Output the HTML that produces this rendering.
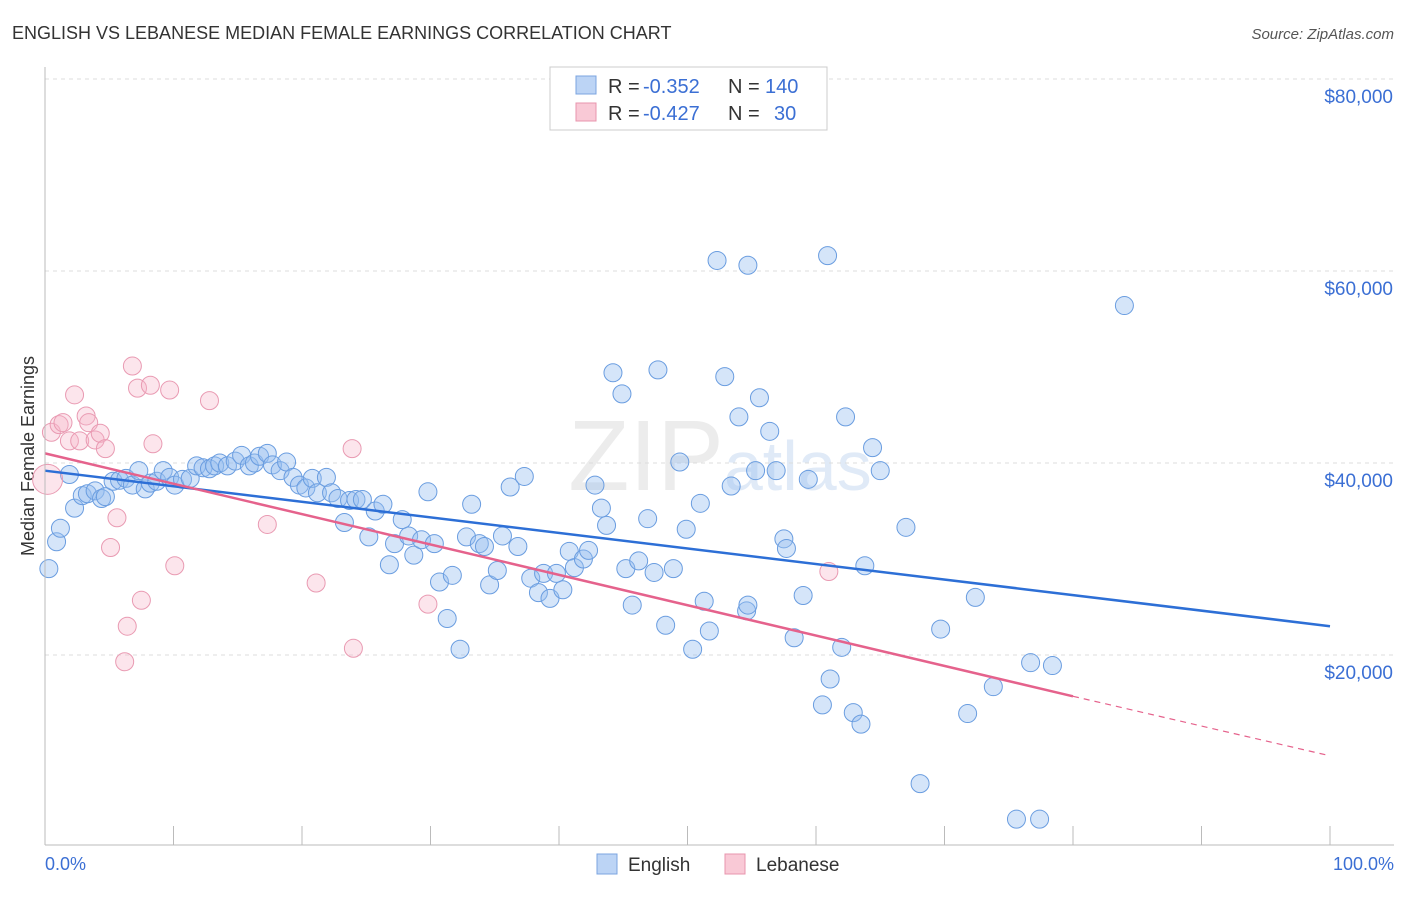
<!DOCTYPE html>
<html><head><meta charset="utf-8"><style>
body{margin:0;background:#fff;font-family:"Liberation Sans",sans-serif;}
svg text{font-family:"Liberation Sans",sans-serif;}
</style></head><body>
<svg id="c" width="1406" height="892" xmlns="http://www.w3.org/2000/svg">
<text x="12" y="39" font-size="18" fill="#333">ENGLISH VS LEBANESE MEDIAN FEMALE EARNINGS CORRELATION CHART</text>
<text x="1394" y="39" font-size="15" fill="#555" text-anchor="end" font-style="italic">Source: ZipAtlas.com</text>
<text x="34" y="456" font-size="18" fill="#333" text-anchor="middle" transform="rotate(-90 34 456)">Median Female Earnings</text>
<text x="720" y="490" font-size="100" fill="#ececec" text-anchor="middle" font-family="Liberation Serif">ZIP<tspan font-size="70" fill="#e0eaf7" font-family="Liberation Sans">atlas</tspan></text>
<g id="grid"></g><g id="marks"></g>
<line x1="45" y1="67" x2="45" y2="845" stroke="#bbb"/>
<line x1="45" y1="845" x2="1394" y2="845" stroke="#bbb"/>
<text x="45" y="870" font-size="18" fill="#3b6fd4">0.0%</text>
<text x="1394" y="870" font-size="18" fill="#3b6fd4" text-anchor="end">100.0%</text>
<g>
<rect x="550" y="67" width="277" height="63" fill="#fff" stroke="#ccc"/>
<rect x="576" y="76" width="20" height="18" fill="#bcd4f5" stroke="#7ba4e0"/>
<rect x="576" y="103" width="20" height="18" fill="#f9c9d6" stroke="#e895ad"/>
<text x="608" y="93" font-size="20" fill="#333">R =</text>
<text x="643" y="93" font-size="20" fill="#3b6fd4">-0.352</text>
<text x="728" y="93" font-size="20" fill="#333">N =</text>
<text x="765" y="93" font-size="20" fill="#3b6fd4">140</text>
<text x="608" y="120" font-size="20" fill="#333">R =</text>
<text x="643" y="120" font-size="20" fill="#3b6fd4">-0.427</text>
<text x="728" y="120" font-size="20" fill="#333">N =</text>
<text x="774" y="120" font-size="20" fill="#3b6fd4">30</text>
</g>
<g>
<rect x="597" y="854" width="20" height="20" fill="#bcd4f5" stroke="#7ba4e0"/>
<text x="628" y="871" font-size="19" fill="#333">English</text>
<rect x="725" y="854" width="20" height="20" fill="#f9c9d6" stroke="#e895ad"/>
<text x="756" y="871" font-size="19" fill="#333">Lebanese</text>
</g>
</svg>
<script>
const yTicks=[20000,40000,60000,80000];
const yTickLabels=["$20,000","$40,000","$60,000","$80,000"];
const englishX=[0.3,0.9,1.2,1.9,2.3,2.9,3.3,3.9,4.4,4.7,5.3,5.8,6.3,6.8,7.3,7.8,8.2,8.7,9.2,9.7,10.1,10.7,11.3,11.8,12.3,12.8,13.2,13.6,14.2,14.8,15.3,15.9,16.3,16.7,17.3,17.7,18.3,18.8,19.3,19.8,20.3,20.8,21.2,21.9,22.3,22.8,23.3,23.7,24.2,24.7,25.2,25.7,26.3,26.8,27.2,27.8,28.3,28.7,29.3,29.8,30.3,30.7,31.3,31.7,32.3,32.8,33.2,33.8,34.2,34.6,35.2,35.6,36.2,36.8,37.3,37.8,38.4,38.8,39.3,39.8,40.3,40.8,41.2,41.9,42.3,42.8,43.3,43.7,44.2,44.9,45.2,45.7,46.2,46.9,47.4,47.7,48.3,48.9,49.4,49.9,50.4,51.0,51.3,51.7,52.3,52.9,53.4,54.0,54.6,54.7,54.7,55.3,55.6,56.4,56.9,57.5,57.7,58.3,59.0,59.4,60.5,60.9,61.1,62.0,62.3,62.9,63.5,63.8,64.4,65.0,67.0,68.1,69.7,71.8,72.4,73.8,75.6,76.7,77.4,78.4,84.0];
const englishY=[29000,31800,33200,38800,35300,36600,36800,37100,36300,36500,38100,38200,38400,37700,39200,37300,37900,38100,39200,38500,37700,38300,38400,39700,39500,39400,39700,40000,39700,40200,40800,39700,40000,40700,41000,39800,39200,40100,38500,37700,37400,38400,36900,38500,36900,36300,33800,36100,36200,36200,32300,35000,35700,29400,31600,34100,32400,30400,32000,37000,31600,27600,23800,28300,20600,32300,35700,31600,31300,27300,28800,32400,37500,31300,38600,28000,26500,28500,25900,28500,26800,30800,29100,30000,30900,37700,35300,33500,49400,47200,29000,25200,29800,34200,28600,49700,23100,29000,40100,33100,20600,35800,25600,22500,61100,49000,37600,44800,24600,25200,60600,39200,46800,43300,39200,32100,31100,21800,26200,38300,14800,61600,17500,20800,44800,14000,12800,29300,41600,39200,33300,6600,22700,13900,26000,16700,2900,19200,2900,18900,56400];
const lebaneseX=[0.2,0.5,1.1,1.4,1.9,2.3,2.7,3.2,3.4,3.9,4.3,4.7,5.1,5.6,6.4,6.2,6.8,7.2,7.5,8.2,8.4,9.7,10.1,12.8,17.3,21.1,24.0,23.9,29.8,61.0];
const lebaneseY=[38300,43200,44000,44200,42300,47100,42300,44900,44200,42400,43100,41500,31200,34300,23000,19300,50100,47800,25700,48100,42000,47600,29300,46500,33600,27500,20700,41500,25300,28700];
const englishTrend=[39200,23000];
const lebaneseTrend=[41000,15700,9500];
const NS="http://www.w3.org/2000/svg";
const X0=45,X1=1330,Y0=847,PPD=192/20000;
const xs=v=>X0+(v/100)*(X1-X0), ys=v=>Y0-v*PPD;
const grid=document.getElementById('grid'),marks=document.getElementById('marks'),svg=document.getElementById('c');
function mk(t,a,p){const e=document.createElementNS(NS,t);for(const k in a)e.setAttribute(k,a[k]);(p||marks).appendChild(e);return e;}
yTicks.forEach((t,i)=>{
 const l=mk('line',{x1:45,x2:1394,y1:ys(t),y2:ys(t),stroke:'#ddd','stroke-dasharray':'4,4'},grid);
 
 
 const tx=mk('text',{x:1393,y:ys(t)+24,'font-size':19,fill:'#3b6fd4','text-anchor':'end'},svg);
 tx.textContent=yTickLabels[i];
 
 
});
for(let i=0;i<=10;i++){const l=mk('line',{x1:xs(i*10),x2:xs(i*10),y1:826,y2:845,stroke:'#bbb'},grid);
 
 }
englishX.forEach((x,i)=>{const c=mk('circle',{cx:xs(x),cy:ys(englishY[i]),r:9,fill:'rgba(150,190,240,0.4)',stroke:'#6a9de0','stroke-width':1});
 
 });
lebaneseX.forEach((x,i)=>{const c=mk('circle',{cx:xs(x),cy:ys(lebaneseY[i]),r:i==0?15:9,fill:'rgba(245,180,200,0.35)',stroke:'#e99ab2','stroke-width':1});
 
 });
const bl=mk('line',{x1:xs(0),y1:ys(englishTrend[0]),x2:xs(100),y2:ys(englishTrend[1]),stroke:'#2d6fd6','stroke-width':2.5});


const pl=mk('line',{x1:xs(0),y1:ys(lebaneseTrend[0]),x2:xs(80),y2:ys(lebaneseTrend[1]),stroke:'#e5628c','stroke-width':2.5});


const pd=mk('line',{x1:xs(80),y1:ys(lebaneseTrend[1]),x2:xs(100),y2:ys(lebaneseTrend[2]),stroke:'#e5628c','stroke-width':1.2,'stroke-dasharray':'6,5'});


</script>
</body></html>
